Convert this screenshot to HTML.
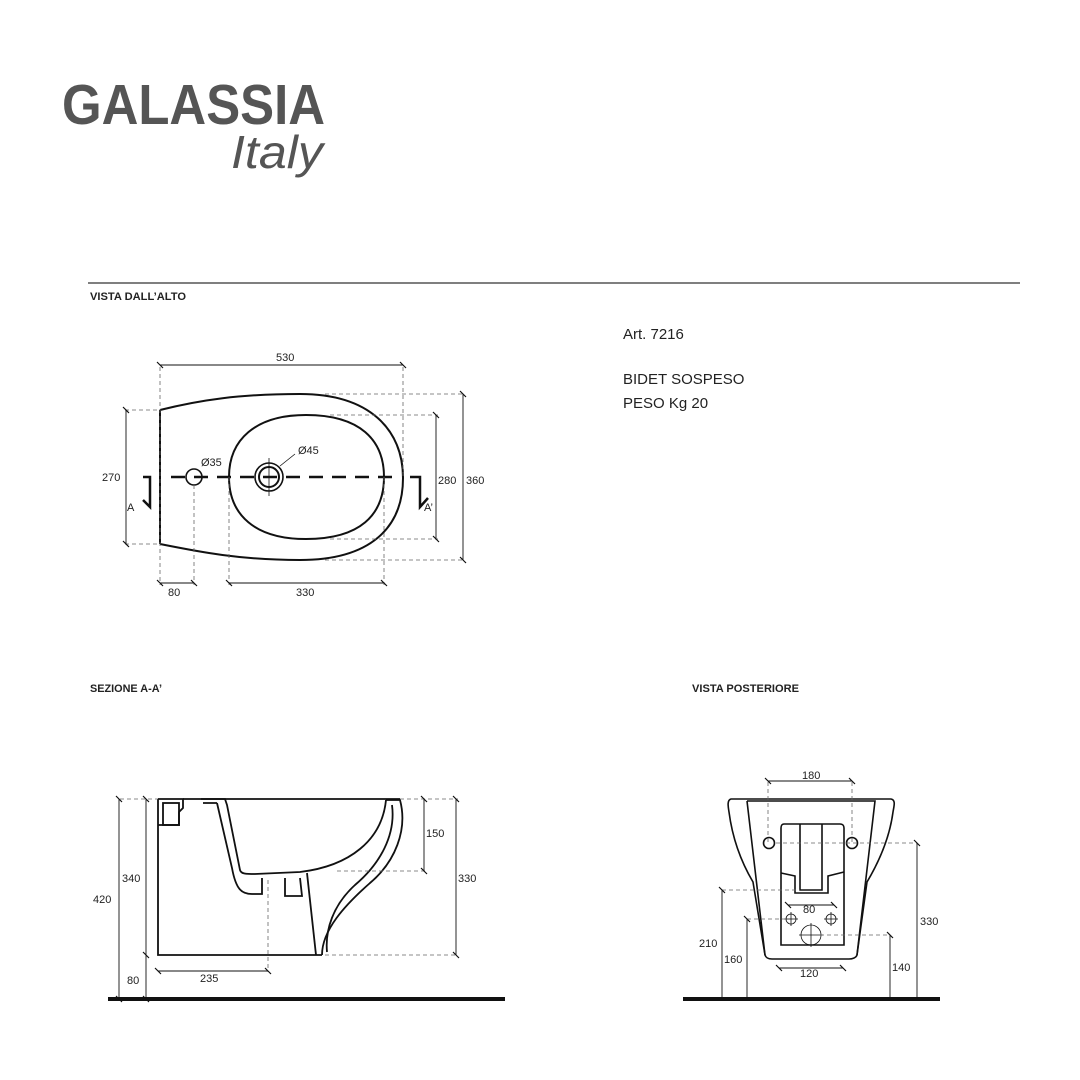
<!DOCTYPE html>
<html><head><meta charset="utf-8"><style>
html,body{margin:0;padding:0;background:#fff;}
svg{display:block;}
text{font-family:"Liberation Sans",sans-serif;}
</style></head><body>
<svg width="1080" height="1080" viewBox="0 0 1080 1080" xmlns="http://www.w3.org/2000/svg">
<rect width="1080" height="1080" fill="#fff"/>
<!-- logo -->
<text x="62" y="124" font-size="57" font-weight="bold" fill="#555" textLength="263" lengthAdjust="spacingAndGlyphs">GALASSIA</text>
<text x="231" y="168" font-size="46" font-style="italic" fill="#555" textLength="92" lengthAdjust="spacingAndGlyphs">Italy</text>
<line x1="88" y1="283" x2="1020" y2="283" stroke="#555" stroke-width="1.5"/>
<text x="90" y="300" font-size="11" font-weight="bold" fill="#222" textLength="96" lengthAdjust="spacingAndGlyphs">VISTA DALL’ALTO</text>
<text x="623" y="339" font-size="15" fill="#222">Art. 7216</text>
<text x="623" y="384" font-size="15" fill="#222">BIDET SOSPESO</text>
<text x="623" y="408" font-size="15" fill="#222">PESO  Kg 20</text>

<!-- TOP VIEW -->
<g fill="none" stroke="#111">
<path d="M160,410 L160,544 M160,410 C200,400 240,394 300,394 C370,394 403,430 403,478 C403,528 370,560 300,560 C240,560 200,552 160,544" stroke-width="2"/>
<path d="M306,415 C360,415 384,440 384,477 C384,515 360,539 306,539 C255,539 229,515 229,477 C229,440 255,415 306,415Z" stroke-width="2"/>
<circle cx="194" cy="477" r="8" stroke-width="1.6"/>
<circle cx="269" cy="477" r="14" stroke-width="1.6"/>
<circle cx="269" cy="477" r="10" stroke-width="2"/>
<line x1="269" y1="458" x2="269" y2="496" stroke-width="0.8"/>
<line x1="280" y1="466" x2="295" y2="454" stroke-width="0.8"/>
<line x1="171" y1="477" x2="395" y2="477" stroke-width="2.5" stroke-dasharray="14,9"/>
<polyline points="143,477 150,477 150,507 143,500" stroke-width="2.5"/>
<polyline points="410,477 420,477 420,507 428,498" stroke-width="2.5"/>
<g stroke="#666" stroke-width="0.8" stroke-dasharray="4,3">
<line x1="160" y1="367" x2="160" y2="585"/>
<line x1="403" y1="367" x2="403" y2="478"/>
<line x1="194" y1="485" x2="194" y2="585"/>
<line x1="229" y1="477" x2="229" y2="585"/>
<line x1="384" y1="477" x2="384" y2="585"/>
<line x1="125" y1="410" x2="160" y2="410"/>
<line x1="125" y1="544" x2="160" y2="544"/>
<line x1="325" y1="394" x2="465" y2="394"/>
<line x1="325" y1="560" x2="465" y2="560"/>
<line x1="330" y1="415" x2="438" y2="415"/>
<line x1="330" y1="539" x2="438" y2="539"/>
</g>
<g stroke-width="0.9">
<line x1="160" y1="365" x2="403" y2="365"/>
<line x1="126" y1="410" x2="126" y2="544"/>
<line x1="436" y1="415" x2="436" y2="539"/>
<line x1="463" y1="394" x2="463" y2="560"/>
<line x1="160" y1="583" x2="194" y2="583"/>
<line x1="229" y1="583" x2="384" y2="583"/>
<path d="M157,362l6,6M400,362l6,6M123,407l6,6M123,541l6,6M433,412l6,6M433,536l6,6M460,391l6,6M460,557l6,6M157,580l6,6M191,580l6,6M226,580l6,6M381,580l6,6" stroke-width="1.2"/>
</g>
</g>
<g font-size="11" fill="#222">
<text x="276" y="361">530</text>
<text x="102" y="481">270</text>
<text x="127" y="511">A</text>
<text x="424" y="511">A’</text>
<text x="201" y="466">Ø35</text>
<text x="298" y="454">Ø45</text>
<text x="438" y="484">280</text>
<text x="466" y="484">360</text>
<text x="168" y="596">80</text>
<text x="296" y="596">330</text>
</g>

<!-- SECTION -->
<text x="90" y="692" font-size="11" font-weight="bold" fill="#222" textLength="72" lengthAdjust="spacingAndGlyphs">SEZIONE A-A’</text>
<line x1="108" y1="999" x2="505" y2="999" stroke="#111" stroke-width="4"/>
<g fill="none" stroke="#111" stroke-width="1.8">
<path d="M158,799 L158,955 L322,955"/>
<path d="M158,799 L183,799 L183,808 L179,812 L179,825 L158,825"/>
<rect x="163" y="803" width="16" height="22"/>
<line x1="183" y1="799" x2="400" y2="799"/>
<!-- bowl outer wall -->
<path d="M201,799 L225,799 L227,805 L240,870 C241,874 246,874 255,874 L300,872 C350,866 382,840 386,800"/>
<path d="M217,803 L232,868 C236,890 242,894 252,894 L262,894 L262,878 M217,803 L203,803"/>
<path d="M285,878 L285,896 L302,896 L300,878"/>
<!-- rim and tail -->
<path d="M386,800 L400,800 C408,830 395,862 370,883 C345,905 322,930 322,955"/>
<path d="M392,805 C396,835 380,864 355,885 C333,905 325,930 327,952"/>
<path d="M307,873 L316,955"/>
</g>
<g stroke="#666" stroke-width="0.8" stroke-dasharray="4,3" fill="none">
<line x1="120" y1="799" x2="158" y2="799"/>
<line x1="400" y1="799" x2="458" y2="799"/>
<line x1="337" y1="871" x2="425" y2="871"/>
<line x1="325" y1="955" x2="458" y2="955"/>
<line x1="268" y1="880" x2="268" y2="972"/>
</g>
<g stroke="#111" stroke-width="0.9" fill="none">
<line x1="119" y1="799" x2="119" y2="999"/>
<line x1="146" y1="799" x2="146" y2="999"/>
<line x1="424" y1="799" x2="424" y2="871"/>
<line x1="456" y1="799" x2="456" y2="955"/>
<line x1="158" y1="971" x2="268" y2="971"/>
<path d="M116,796l6,6M143,796l6,6M143,952l6,6M421,796l6,6M421,868l6,6M453,796l6,6M453,952l6,6M155,968l6,6M265,968l6,6M116,996l6,6M143,996l6,6" stroke-width="1.2"/>
</g>
<g font-size="11" fill="#222">
<text x="122" y="882">340</text>
<text x="93" y="903">420</text>
<text x="127" y="984">80</text>
<text x="200" y="982">235</text>
<text x="426" y="837">150</text>
<text x="458" y="882">330</text>
</g>

<!-- REAR VIEW -->
<text x="692" y="692" font-size="11" font-weight="bold" fill="#222" textLength="107" lengthAdjust="spacingAndGlyphs">VISTA POSTERIORE</text>
<line x1="683" y1="999" x2="940" y2="999" stroke="#111" stroke-width="4"/>
<g fill="none" stroke="#111" stroke-width="1.6">
<path d="M731,799 L891,799 C896,800 894,806 893,812 C890,835 880,860 867,882 L857,955 C856,958 852,959 849,959 L772,959 C768,959 766,958 765,955 L753,882 C740,860 732,835 729,812 C728,806 727,800 731,799Z"/>
<path d="M747,801 L875,801 L857,955 M747,801 L765,955"/>
<path d="M784,824 L840,824 C843,824 844,826 844,828 L844,945 L781,945 L781,828 C781,826 782,824 784,824Z"/>
<path d="M800,824 L800,890 L822,890 L822,824"/>
<path d="M781,873 L795,876 L795,893 L828,893 L828,876 L844,872"/>
<circle cx="769" cy="843" r="5.5"/>
<circle cx="852" cy="843" r="5.5"/>
</g>
<g fill="none" stroke="#111" stroke-width="0.8">
<circle cx="791" cy="919" r="5"/><line x1="784" y1="919" x2="798" y2="919"/><line x1="791" y1="912" x2="791" y2="926"/>
<circle cx="831" cy="919" r="5"/><line x1="824" y1="919" x2="838" y2="919"/><line x1="831" y1="912" x2="831" y2="926"/>
<circle cx="811" cy="935" r="10"/><line x1="799" y1="935" x2="823" y2="935"/><line x1="811" y1="923" x2="811" y2="947"/>
</g>
<g stroke="#666" stroke-width="0.8" stroke-dasharray="4,3" fill="none">
<line x1="768" y1="782" x2="768" y2="843"/>
<line x1="852" y1="782" x2="852" y2="843"/>
<line x1="776" y1="843" x2="917" y2="843"/>
<line x1="722" y1="890" x2="800" y2="890"/>
<line x1="747" y1="919" x2="786" y2="919"/>
<line x1="820" y1="935" x2="890" y2="935"/>
</g>
<g stroke="#111" stroke-width="0.9" fill="none">
<line x1="768" y1="781" x2="852" y2="781"/>
<line x1="788" y1="905" x2="834" y2="905"/>
<line x1="779" y1="968" x2="843" y2="968"/>
<line x1="722" y1="890" x2="722" y2="999"/>
<line x1="747" y1="919" x2="747" y2="999"/>
<line x1="890" y1="935" x2="890" y2="999"/>
<line x1="917" y1="843" x2="917" y2="999"/>
<path d="M765,778l6,6M849,778l6,6M785,902l6,6M831,902l6,6M776,965l6,6M840,965l6,6M719,887l6,6M744,916l6,6M887,932l6,6M914,840l6,6" stroke-width="1.2"/>
</g>
<g font-size="11" fill="#222">
<text x="802" y="779">180</text>
<text x="803" y="913">80</text>
<text x="800" y="977">120</text>
<text x="699" y="947">210</text>
<text x="724" y="963">160</text>
<text x="892" y="971">140</text>
<text x="920" y="925">330</text>
</g>
</svg>
</body></html>
